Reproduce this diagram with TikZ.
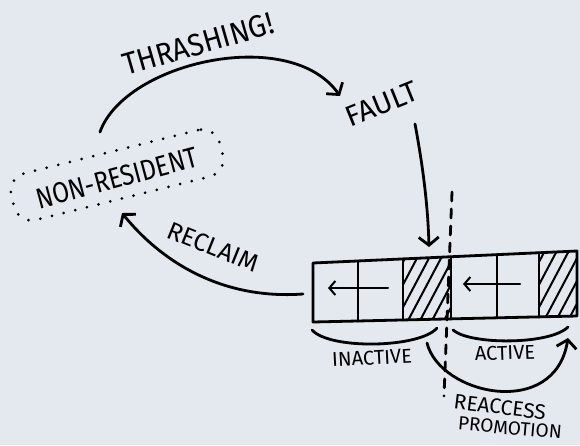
\documentclass[tikz,border=0pt]{standalone}
\usepackage{fontspec}
\setmainfont{Fira Sans}
\usetikzlibrary{arrows.meta}
\definecolor{bg}{HTML}{E4E8EF}
\begin{document}
\begin{tikzpicture}[x=1pt,y=-1pt, line cap=round, line join=round,
  ink/.style={line width=2.8pt, draw=black},
  thinink/.style={line width=2pt, draw=black},
  barb/.style={-{Straight Barb[length=8pt,width=20pt]}},
  smallbarb/.style={-{Straight Barb[length=6pt,width=14pt]}},
  lbl/.style={font=\fontsize{#1}{#1}\selectfont, inner sep=0pt},
  dotbox/.style={draw, line width=3pt, dash pattern=on 0pt off 12pt, line cap=round, rounded corners=18pt}]
\useasboundingbox (0,0) rectangle (580,445);
\fill[bg] (0,0) rectangle (580,445);

% labels
\node[lbl=31, rotate=16] (thr) at (198,44) {\scalebox{0.92}[1]{THRASHING!}};
\node[lbl=29, rotate=22] (fault) at (382,104) {FAULT};
\node[dotbox, rotate=14, minimum width=215pt, minimum height=48pt] (nrbox) at (117,175) {};
\node[lbl=29, rotate=15] (nr) at (117,178) {\scalebox{0.84}[1]{NON-RESIDENT}};
\node[lbl=25, rotate=-22] (recl) at (213,247) {RECLAIM};
\node[lbl=20, rotate=3] (inact) at (372,358) {INACTIVE};
\node[lbl=20, rotate=2] (act) at (505,353) {ACTIVE};
\node[lbl=21, rotate=-7] (reacc) at (500,407) {REACCESS};
\node[lbl=19, rotate=-5] (promo) at (510,428) {PROMOTION};

% bar corner coordinates
\coordinate (t0) at (313,263); \coordinate (b0) at (313,322);
\coordinate (t1) at (358,261); \coordinate (b1) at (358,321);
\coordinate (t2) at (403,259); \coordinate (b2) at (403,320);
\coordinate (t3) at (451,256.7); \coordinate (b3) at (451,318.9);
\coordinate (t4) at (497,254.6); \coordinate (b4) at (497,317.8);
\coordinate (t5) at (539,252.7); \coordinate (b5) at (539,316.9);
\coordinate (t6) at (577,251); \coordinate (b6) at (577,316);

% hatching
\begin{scope}
  \clip (t2)--(t3)--(b3)--(b2)--cycle;
  \foreach \k in {-48,-36,...,50} \draw[thinink] (403+\k,330) -- (448+\k,245);
\end{scope}
\begin{scope}
  \clip (t5)--(t6)--(b6)--(b5)--cycle;
  \foreach \k in {-48,-36,...,40} \draw[thinink] (539+\k,330) -- (584+\k,245);
\end{scope}

% bar
\draw[ink] (t0)--(t6)--(b6)--(b0)--cycle;
\foreach \i in {1,...,5} \draw[ink] (t\i)--(b\i);

% inner arrows
\coordinate (ia1) at (388,288); \coordinate (ia2) at (328,288);
\coordinate (aa1) at (520,284); \coordinate (aa2) at (463,284);
\draw[thinink, smallbarb] (ia1) -- (ia2);
\draw[thinink, smallbarb] (aa1) -- (aa2);

% dashed divider
\coordinate (dv1) at (452,192); \coordinate (dv2) at (444,396);
\draw[ink, dash pattern=on 9pt off 8pt] (dv1) -- (dv2);

% connectors
\coordinate (thrS) at (100,132); \coordinate (thrE) at (340,96);
\draw[ink, barb] (thrS) .. controls (125,62) and (290,25) .. (thrE);
\coordinate (fS) at (415,124); \coordinate (fE) at (429,247);
\draw[ink, barb] (fS) .. controls (424,172) and (428,210) .. (fE);
\coordinate (rS) at (303,294); \coordinate (rE) at (122,213);
\draw[ink, barb] (rS) .. controls (220,300) and (160,260) .. (rE);

% braces
\coordinate (iB1) at (312,330); \coordinate (iB2) at (437,328);
\draw[ink] (iB1) .. controls (330,350) and (420,348) .. (iB2);
\coordinate (aB1) at (453,330); \coordinate (aB2) at (568,327);
\draw[ink] (aB1) .. controls (470,345) and (550,345) .. (aB2);

% promotion arrow
\coordinate (pS) at (427,343); \coordinate (pE) at (568,338);
\draw[ink, barb] (pS) .. controls (440,395) and (555,420) .. (pE);
\end{tikzpicture}
\end{document}
